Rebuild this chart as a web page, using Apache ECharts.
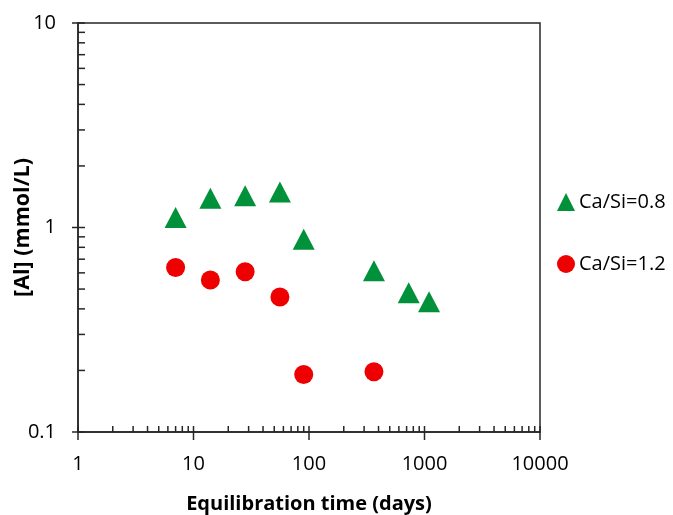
<!DOCTYPE html>
<html>
<head>
<meta charset="utf-8">
<script src="https://cdn.jsdelivr.net/npm/echarts@6/dist/echarts.min.js"></script>
<style>
html,body{margin:0;padding:0;background:#fff;}
#chart{width:673px;height:515px;}
</style>
</head>
<body>
<div id="chart"></div>
<script>
// Data (days, [Al] mmol/L)
const seriesNames = ['Ca/Si=0.8', 'Ca/Si=1.2'];
const daysCaSi08 = [7, 14, 28, 56, 90, 365, 730, 1095];
const alCaSi08 = [1.12, 1.39, 1.43, 1.49, 0.877, 0.614, 0.479, 0.434];
const daysCaSi12 = [7, 14, 28, 56, 90, 365];
const alCaSi12 = [0.637, 0.554, 0.608, 0.457, 0.191, 0.197];
// Axis ticks
const xMajorTicks = [1, 10, 100, 1000, 10000];
const yMajorTicks = [0.1, 1, 10];
const minorMultipliers = [2, 3, 4, 5, 6, 7, 8, 9];

const FONT = 'Open Sans';
const AXIS_COLOR = '#262626';

function minorsOf(majors) {
  const out = [];
  for (let i = 0; i < majors.length - 1; i++) {
    minorMultipliers.forEach(m => out.push(majors[i] * m));
  }
  return out;
}

const xTickData = xMajorTicks.map(v => [v, 0.1, 1]).concat(minorsOf(xMajorTicks).map(v => [v, 0.1, 0]));
const yTickData = yMajorTicks.map(v => [1, v, 1]).concat(minorsOf(yMajorTicks).map(v => [1, v, 0]));

const chart = echarts.init(document.getElementById('chart'));
chart.setOption({
  animation: false,
  backgroundColor: '#fff',
  grid: {
    left: 78, right: 133, top: 23, bottom: 83,
    containLabel: false, outerBoundsMode: 'none',
    show: true, borderColor: AXIS_COLOR, borderWidth: 1.5
  },
  legend: {
    orient: 'vertical', left: 552, top: 187,
    itemWidth: 18, itemHeight: 18, itemGap: 42,
    textStyle: { fontFamily: FONT, fontSize: 20, color: '#000', lineHeight: 20, padding: [0, 0, 0, -1] },
    data: [
      { name: seriesNames[0], icon: 'triangle' },
      { name: seriesNames[1], icon: 'circle' }
    ]
  },
  xAxis: {
    type: 'log', logBase: 10, min: 1, max: 10000,
    name: 'Equilibration time (days)', nameLocation: 'middle', nameGap: 62, nameMoveOverlap: false,
    nameTextStyle: { fontFamily: FONT, fontSize: 20, fontWeight: 'bold', color: '#000' },
    axisLine: { lineStyle: { color: AXIS_COLOR, width: 1.5 } },
    axisTick: { show: false },
    minorTick: { show: false },
    splitLine: { show: false },
    axisLabel: { fontFamily: FONT, fontSize: 20, color: '#000', margin: 22, formatter: v => String(v) }
  },
  yAxis: {
    type: 'log', logBase: 10, min: 0.1, max: 10,
    name: '[Al] (mmol/L)', nameLocation: 'middle', nameGap: 44, nameMoveOverlap: false,
    nameTextStyle: { fontFamily: FONT, fontSize: 21.5, fontWeight: 'bold', color: '#000' },
    axisLine: { lineStyle: { color: AXIS_COLOR, width: 1.5 } },
    axisTick: { show: false },
    minorTick: { show: false },
    splitLine: { show: false },
    axisLabel: { fontFamily: FONT, fontSize: 20, color: '#000', margin: 22, formatter: v => String(v) }
  },
  series: [
    {
      name: seriesNames[0], type: 'scatter', symbol: 'triangle', symbolSize: [22, 21],
      itemStyle: { color: '#00913a', opacity: 1 },
      data: daysCaSi08.map((d, i) => [d, alCaSi08[i]]), z: 5
    },
    {
      name: seriesNames[1], type: 'scatter', symbol: 'circle', symbolSize: 19,
      itemStyle: { color: '#ee0000', opacity: 1 },
      data: daysCaSi12.map((d, i) => [d, alCaSi12[i]]), z: 5
    },
    {
      type: 'custom', silent: true, clip: false, z: 3,
      data: xTickData,
      renderItem: function (params, api) {
        const p = api.coord([api.value(0), api.value(1)]);
        const major = api.value(2) === 1;
        return {
          type: 'line',
          shape: { x1: p[0], y1: p[1] - 6, x2: p[0], y2: p[1] + (major ? 8 : 0) },
          style: { stroke: AXIS_COLOR, lineWidth: 1.5 }
        };
      }
    },
    {
      type: 'custom', silent: true, clip: false, z: 3,
      data: yTickData,
      renderItem: function (params, api) {
        const p = api.coord([api.value(0), api.value(1)]);
        const major = api.value(2) === 1;
        return {
          type: 'line',
          shape: { x1: p[0] - (major ? 6 : 0), y1: p[1], x2: p[0] + 7, y2: p[1] },
          style: { stroke: AXIS_COLOR, lineWidth: 1.5 }
        };
      }
    }
  ]
});
</script>
</body>
</html>
